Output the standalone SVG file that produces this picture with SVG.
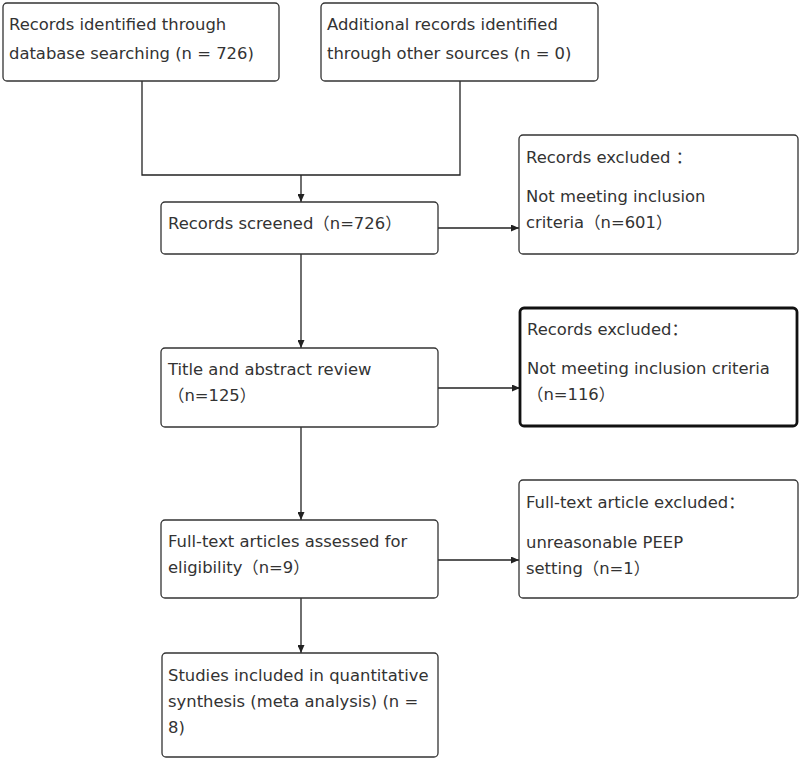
<svg xmlns="http://www.w3.org/2000/svg" width="800" height="762" viewBox="0 0 800 762">
<style>
.box{fill:#fff;stroke:#333;stroke-width:1.3}
.thick{fill:#fff;stroke:#111;stroke-width:2.8}
.t{font-family:"DejaVu Sans","Noto Sans CJK SC",sans-serif;font-size:16.4px;fill:#333}
.c{fill:none;stroke:#222;stroke-width:1.3}
</style>
<defs>
<marker id="ah" markerUnits="userSpaceOnUse" markerWidth="8" markerHeight="7" refX="8" refY="3.5" orient="auto">
<path d="M0,0 L8,3.5 L0,7 z" fill="#222"/>
</marker>
</defs>
<rect width="800" height="762" fill="#fff"/>
<g id="connectors">
<path class="c" d="M142,81 V175 H460 V81"/>
<path class="c" d="M301,175 V202" marker-end="url(#ah)"/>
<path class="c" d="M301,254 V348" marker-end="url(#ah)"/>
<path class="c" d="M301,427 V520" marker-end="url(#ah)"/>
<path class="c" d="M301,598 V653" marker-end="url(#ah)"/>
<path class="c" d="M438,228 H519" marker-end="url(#ah)"/>
<path class="c" d="M438,388 H520" marker-end="url(#ah)"/>
<path class="c" d="M438,560 H519" marker-end="url(#ah)"/>
</g>
<g id="n1">
<rect class="box" x="3" y="3" width="276" height="78" rx="4"/>
<text class="t" x="9" y="30">Records identified through</text>
<text class="t" x="9" y="59">database searching (n = 726)</text>
</g>
<g id="n2">
<rect class="box" x="321" y="3" width="277" height="78" rx="4"/>
<text class="t" x="327" y="30">Additional records identified</text>
<text class="t" x="327" y="59">through other sources (n = 0)</text>
</g>
<g id="n3">
<rect class="box" x="161" y="202" width="277" height="52" rx="4"/>
<text class="t" x="168" y="229">Records screened（n=726）</text>
</g>
<g id="n4">
<rect class="box" x="519" y="135" width="279" height="119" rx="4"/>
<text class="t" x="526" y="163">Records excluded ：</text>
<text class="t" x="526" y="202">Not meeting inclusion</text>
<text class="t" x="526" y="228">criteria（n=601）</text>
</g>
<g id="n5">
<rect class="box" x="161" y="348" width="277" height="79" rx="4"/>
<text class="t" x="168" y="375">Title and abstract review</text>
<text class="t" x="168" y="401">（n=125）</text>
</g>
<g id="n6">
<rect class="thick" x="520" y="308" width="277" height="118" rx="4"/>
<text class="t" x="527" y="335">Records excluded：</text>
<text class="t" x="527" y="374">Not meeting inclusion criteria</text>
<text class="t" x="527" y="400">（n=116）</text>
</g>
<g id="n7">
<rect class="box" x="161" y="520" width="277" height="78" rx="4"/>
<text class="t" x="168" y="547">Full-text articles assessed for</text>
<text class="t" x="168" y="573">eligibility（n=9）</text>
</g>
<g id="n8">
<rect class="box" x="519" y="480" width="279" height="118" rx="4"/>
<text class="t" x="526" y="508">Full-text article excluded：</text>
<text class="t" x="526" y="548">unreasonable PEEP</text>
<text class="t" x="526" y="574">setting（n=1）</text>
</g>
<g id="n9">
<rect class="box" x="162" y="653" width="276" height="104" rx="4"/>
<text class="t" x="168" y="681">Studies included in quantitative</text>
<text class="t" x="168" y="707">synthesis (meta analysis) (n =</text>
<text class="t" x="168" y="733">8)</text>
</g>
</svg>
